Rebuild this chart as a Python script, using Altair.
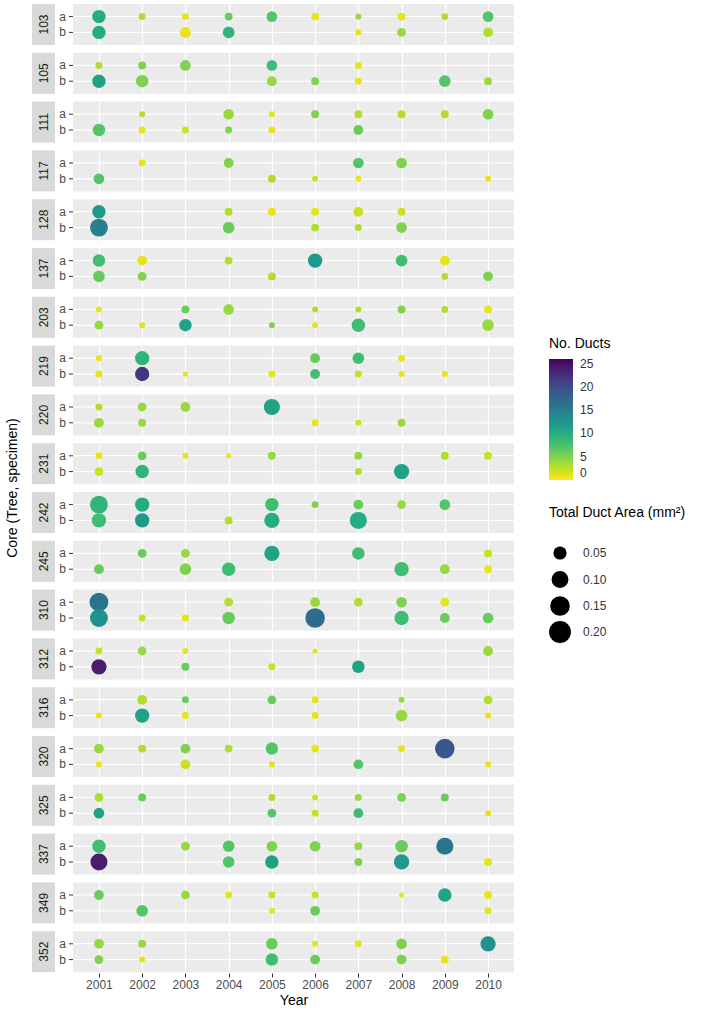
import altair as alt
import pandas as pd

trees = ["103", "105", "111", "117", "128", "137", "203", "219", "220", "231",
         "242", "245", "310", "312", "316", "320", "325", "337", "349", "352"]

core_ids = ["103a", "103b", "105a", "105b", "111a", "111b", "117a", "117b",
            "128a", "128b", "137a", "137b", "203a", "203b", "219a", "219b",
            "220a", "220b", "231a", "231b", "242a", "242b", "245a", "245b",
            "310a", "310b", "312a", "312b", "316a", "316b", "320a", "320b",
            "325a", "325b", "337a", "337b", "349a", "349b", "352a", "352b"]

years_by_core = [
    [2001, 2002, 2003, 2004, 2005, 2006, 2007, 2008, 2009, 2010],
    [2001, 2003, 2004, 2007, 2008, 2010],
    [2001, 2002, 2003, 2005, 2007],
    [2001, 2002, 2005, 2006, 2007, 2009, 2010],
    [2002, 2004, 2005, 2006, 2007, 2008, 2009, 2010],
    [2001, 2002, 2003, 2004, 2005, 2007],
    [2002, 2004, 2007, 2008],
    [2001, 2005, 2006, 2007, 2010],
    [2001, 2004, 2005, 2006, 2007, 2008],
    [2001, 2004, 2006, 2007, 2008],
    [2001, 2002, 2004, 2006, 2008, 2009],
    [2001, 2002, 2005, 2009, 2010],
    [2001, 2003, 2004, 2006, 2007, 2008, 2009, 2010],
    [2001, 2002, 2003, 2005, 2006, 2007, 2010],
    [2001, 2002, 2006, 2007, 2008],
    [2001, 2002, 2003, 2005, 2006, 2007, 2008, 2009],
    [2001, 2002, 2003, 2005],
    [2001, 2002, 2006, 2007, 2008],
    [2001, 2002, 2003, 2004, 2005, 2007, 2009, 2010],
    [2001, 2002, 2007, 2008],
    [2001, 2002, 2005, 2006, 2007, 2008, 2009],
    [2001, 2002, 2004, 2005, 2007],
    [2002, 2003, 2005, 2007, 2010],
    [2001, 2003, 2004, 2008, 2009, 2010],
    [2001, 2004, 2006, 2007, 2008, 2009],
    [2001, 2002, 2003, 2004, 2006, 2008, 2009, 2010],
    [2001, 2002, 2003, 2006, 2010],
    [2001, 2003, 2005, 2007],
    [2002, 2003, 2005, 2006, 2008, 2010],
    [2001, 2002, 2003, 2006, 2008, 2010],
    [2001, 2002, 2003, 2004, 2005, 2006, 2008, 2009],
    [2001, 2003, 2005, 2007, 2010],
    [2001, 2002, 2005, 2006, 2007, 2008, 2009],
    [2001, 2005, 2006, 2007, 2010],
    [2001, 2003, 2004, 2005, 2006, 2007, 2008, 2009],
    [2001, 2004, 2005, 2007, 2008, 2010],
    [2001, 2003, 2004, 2005, 2006, 2008, 2009, 2010],
    [2002, 2005, 2006, 2010],
    [2001, 2002, 2005, 2006, 2007, 2008, 2010],
    [2001, 2002, 2005, 2006, 2008, 2009],
]

ducts_by_core = [
    [10, 3, 1, 6, 7, 1, 4, 1, 3, 7],
    [10, 1, 9, 1, 4, 3],
    [3, 5, 5, 8, 1],
    [11, 5, 4, 5, 1, 7, 4],
    [3, 4, 1, 5, 3, 3, 3, 5],
    [7, 1, 2, 5, 1, 6],
    [1, 5, 7, 5],
    [7, 3, 2, 1, 1],
    [12, 3, 1, 1, 2, 2],
    [15, 6, 3, 3, 5],
    [8, 1, 3, 12, 8, 1],
    [6, 5, 3, 3, 5],
    [1, 6, 4, 3, 3, 5, 3, 1],
    [4, 1, 11, 5, 1, 8, 4],
    [1, 9, 6, 8, 1],
    [1, 22, 1, 1, 8, 2, 1, 1],
    [3, 4, 4, 11],
    [4, 4, 1, 2, 4],
    [1, 6, 1, 1, 4, 4, 3, 2],
    [2, 9, 3, 11],
    [9, 10, 8, 5, 6, 4, 7],
    [8, 12, 3, 10, 10],
    [6, 4, 11, 8, 2],
    [6, 5, 8, 8, 4, 1],
    [16, 3, 4, 3, 5, 1],
    [13, 2, 1, 6, 17, 8, 6, 6],
    [2, 4, 1, 1, 4],
    [24, 6, 2, 11],
    [3, 6, 6, 1, 4, 3],
    [1, 11, 1, 1, 4, 1],
    [4, 3, 5, 3, 7, 1, 1, 19],
    [1, 2, 1, 7, 1],
    [3, 6, 3, 2, 4, 5, 6],
    [11, 7, 2, 8, 1],
    [8, 4, 7, 5, 5, 4, 6, 16],
    [24, 7, 11, 5, 12, 1],
    [6, 4, 1, 2, 2, 1, 11, 1],
    [7, 1, 6, 1],
    [4, 4, 6, 1, 1, 5, 13],
    [5, 1, 8, 6, 5, 1],
]

area_by_core = [
    [0.072, 0.0125, 0.0125, 0.018, 0.040, 0.018, 0.008, 0.018, 0.0125, 0.040],
    [0.072, 0.040, 0.050, 0.008, 0.024, 0.032],
    [0.0125, 0.018, 0.040, 0.040, 0.0125],
    [0.072, 0.060, 0.032, 0.018, 0.0125, 0.050, 0.018],
    [0.008, 0.040, 0.008, 0.018, 0.018, 0.018, 0.018, 0.040],
    [0.060, 0.0125, 0.0125, 0.0125, 0.0125, 0.032],
    [0.0125, 0.032, 0.040, 0.040],
    [0.040, 0.018, 0.008, 0.008, 0.008],
    [0.072, 0.018, 0.018, 0.018, 0.032, 0.018],
    [0.144, 0.050, 0.018, 0.0125, 0.040],
    [0.060, 0.032, 0.018, 0.084, 0.050, 0.032],
    [0.050, 0.024, 0.018, 0.0125, 0.032],
    [0.008, 0.018, 0.040, 0.008, 0.008, 0.018, 0.0125, 0.018],
    [0.024, 0.008, 0.060, 0.008, 0.008, 0.072, 0.050],
    [0.008, 0.084, 0.032, 0.050, 0.0125],
    [0.0125, 0.084, 0.0045, 0.0125, 0.032, 0.0125, 0.008, 0.008],
    [0.0125, 0.024, 0.032, 0.112],
    [0.032, 0.018, 0.0125, 0.008, 0.018],
    [0.0125, 0.024, 0.008, 0.0045, 0.018, 0.018, 0.018, 0.018],
    [0.024, 0.072, 0.0125, 0.098],
    [0.144, 0.084, 0.072, 0.0125, 0.032, 0.024, 0.040],
    [0.084, 0.084, 0.018, 0.098, 0.128],
    [0.024, 0.024, 0.098, 0.060, 0.018],
    [0.032, 0.050, 0.072, 0.084, 0.032, 0.018],
    [0.162, 0.024, 0.032, 0.024, 0.040, 0.024],
    [0.144, 0.0125, 0.0125, 0.060, 0.180, 0.084, 0.032, 0.040],
    [0.0125, 0.024, 0.008, 0.0045, 0.032],
    [0.098, 0.018, 0.0125, 0.060],
    [0.032, 0.0125, 0.024, 0.0125, 0.008, 0.024],
    [0.008, 0.084, 0.0125, 0.0125, 0.050, 0.008],
    [0.032, 0.018, 0.032, 0.018, 0.060, 0.018, 0.0125, 0.180],
    [0.008, 0.032, 0.008, 0.032, 0.008],
    [0.024, 0.018, 0.0125, 0.008, 0.0125, 0.024, 0.018],
    [0.040, 0.024, 0.0125, 0.032, 0.008],
    [0.072, 0.024, 0.050, 0.040, 0.040, 0.018, 0.060, 0.128],
    [0.128, 0.050, 0.072, 0.018, 0.098, 0.018],
    [0.032, 0.024, 0.0125, 0.0125, 0.0125, 0.0045, 0.072, 0.018],
    [0.050, 0.008, 0.032, 0.0125],
    [0.032, 0.018, 0.050, 0.008, 0.0125, 0.040, 0.098],
    [0.024, 0.008, 0.060, 0.032, 0.032, 0.018],
]

duct_ticks = [0, 5, 10, 15, 20, 25]
area_ticks = [0.05, 0.10, 0.15, 0.20]

rows = []
for core, yrs, nds, ars in zip(core_ids, years_by_core, ducts_by_core, area_by_core):
    for yr, nd, ar in zip(yrs, nds, ars):
        rows.append({"tree": core[:3], "specimen": core[3:], "year": yr,
                     "ducts": nd, "area": ar})
df = pd.DataFrame(rows)

FONT = "Liberation Sans"
W, H = 441, 41

y_enc = alt.Y("specimen:N", scale=alt.Scale(padding=0.6),
              axis=alt.Axis(title=None, grid=True, labels=False, ticks=False))

points = alt.Chart().mark_circle(opacity=1).encode(
    x=alt.X("year:O", scale=alt.Scale(padding=0.6),
            axis=alt.Axis(title="Year", labelAngle=0, grid=True)),
    y=y_enc,
    color=alt.Color("ducts:Q",
                    scale=alt.Scale(scheme="viridis", reverse=True, domain=[0, 26]),
                    legend=alt.Legend(title="No. Ducts", type="gradient",
                                      values=duct_ticks, gradientLength=121,
                                      gradientThickness=24, labelOffset=7,
                                      titlePadding=8, orient="none",
                                      legendX=476, legendY=333)),
    size=alt.Size("area:Q",
                  scale=alt.Scale(type="pow", exponent=0.85, domain=[0, 0.22],
                                  range=[10, 452]),
                  legend=alt.Legend(title="Total Duct Area (mm²)", values=area_ticks,
                                    symbolFillColor="black", symbolStrokeColor="black",
                                    symbolOpacity=1, rowPadding=-3, gridAlign="all",
                                    titlePadding=26, labelOffset=12, orient="none",
                                    legendX=476, legendY=502)),
)

# specimen labels and ticks (left of each panel)
spec_lbl = alt.Chart().transform_aggregate(
    n="count()", groupby=["specimen"]
).mark_text(align="right", baseline="middle", font=FONT, fontSize=12,
            color="#4D4D4D").encode(
    x=alt.value(-7), y=y_enc, text="specimen:N"
)
spec_tick = alt.Chart().transform_aggregate(
    n="count()", groupby=["specimen"]
).mark_rule(color="#333333", strokeWidth=1).encode(
    x=alt.value(-4), x2=alt.value(0), y=y_enc
)

# grey strip with tree id
strip_bg = alt.Chart().transform_aggregate(
    n="count()", groupby=["tree"]
).mark_rect(color="#D9D9D9").encode(
    x=alt.value(-41), x2=alt.value(-18), y=alt.value(0), y2=alt.value(H)
)
strip_txt = alt.Chart().transform_aggregate(
    n="count()", groupby=["tree"]
).mark_text(angle=270, font=FONT, fontSize=12, color="#1A1A1A",
            baseline="middle", align="center").encode(
    x=alt.value(-29.5), y=alt.value(H / 2), text="tree:N"
)

chart = alt.layer(points, spec_tick, spec_lbl, strip_bg, strip_txt, data=df).properties(
    width=W, height=H
).facet(
    row=alt.Row("tree:N", sort=trees,
                header=alt.Header(labels=False, title="Core (Tree, specimen)",
                                  titleOrient="left", titleFont=FONT,
                                  titleFontSize=14, titleFontWeight="normal",
                                  titleColor="black", titlePadding=2)),
    spacing=7.8,
).properties(
    padding={"left": 5, "top": 4, "right": 5, "bottom": 4}
).configure_view(
    fill="#EBEBEB", strokeWidth=0
).configure_axis(
    gridColor="white", gridWidth=1.2, domain=False, tickColor="#333333",
    tickSize=4, labelColor="#4D4D4D", labelFontSize=12, labelFont=FONT,
    titleFont=FONT, titleFontSize=14, titleColor="black",
    titleFontWeight="normal", labelPadding=2, titlePadding=3
).configure_legend(
    titleFont=FONT, titleFontSize=14, titleFontWeight="normal",
    titleColor="black", labelFont=FONT, labelFontSize=12, labelColor="#333333"
)

chart.save("out.html", embed_options={"renderer": "svg", "actions": False})
